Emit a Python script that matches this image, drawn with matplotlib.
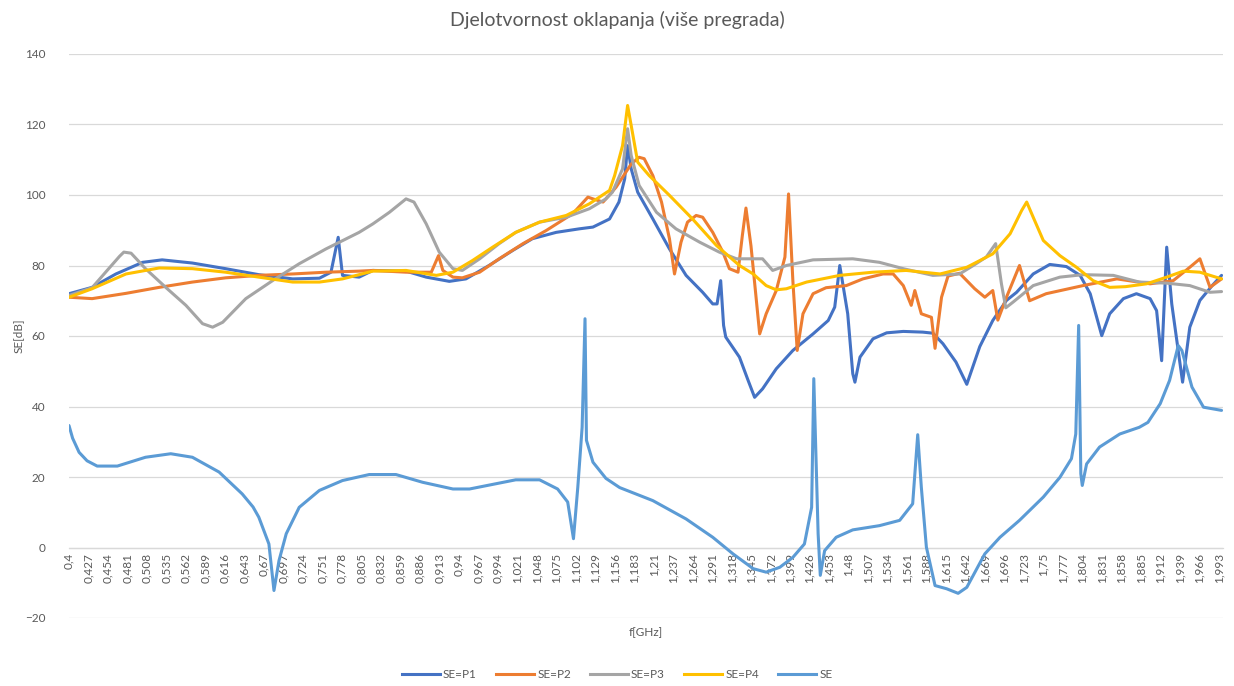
import matplotlib
matplotlib.use("Agg")
import matplotlib.pyplot as plt
from matplotlib.lines import Line2D

plt.rcParams['font.family'] = ['Lato', 'DejaVu Sans']

# ---------------- data (frequency in GHz, shielding effectiveness in dB) ----------------
p1_f = [0.400, 0.432, 0.465, 0.502, 0.529, 0.571, 0.617, 0.663, 0.710, 0.747, 0.763, 0.773,
        0.779, 0.802, 0.821, 0.867, 0.895, 0.927, 0.950, 0.982, 1.015, 1.042, 1.075, 1.107,
        1.126, 1.149, 1.162, 1.170, 1.174, 1.179, 1.188, 1.209, 1.232, 1.255, 1.278, 1.292,
        1.298, 1.303, 1.307, 1.310, 1.329, 1.341, 1.350, 1.361, 1.380, 1.403, 1.431, 1.452,
        1.461, 1.468, 1.479, 1.486, 1.489, 1.496, 1.514, 1.533, 1.556, 1.583, 1.597, 1.611,
        1.629, 1.644, 1.662, 1.680, 1.699, 1.713, 1.736, 1.759, 1.782, 1.801, 1.815, 1.831,
        1.842, 1.861, 1.879, 1.898, 1.907, 1.914, 1.921, 1.928, 1.943, 1.953, 1.967, 1.984,
        1.997]
p1_db = [72.0, 73.8, 77.6, 80.9, 81.6, 80.7, 79.1, 77.4, 76.2, 76.4, 78.1, 88.0,
         77.2, 76.7, 78.6, 78.4, 76.7, 75.5, 76.2, 80.0, 84.3, 87.6, 89.4, 90.4,
         90.9, 93.2, 98.0, 104.6, 114.0, 107.4, 100.8, 93.2, 84.7, 77.2, 72.4, 69.1,
         69.1, 75.7, 63.0, 59.7, 54.0, 47.4, 42.6, 45.0, 50.7, 55.9, 60.6, 64.4,
         68.2, 80.0, 66.3, 49.3, 46.9, 54.0, 59.2, 60.9, 61.3, 61.1, 60.8, 57.8,
         52.6, 46.3, 57.0, 64.4, 70.1, 72.4, 77.6, 80.3, 79.7, 77.2, 72.0, 60.1,
         66.3, 70.6, 72.0, 70.6, 67.2, 53.0, 85.2, 69.1, 46.9, 62.5, 70.1, 74.3,
         77.2]

p2_f = [0.400, 0.432, 0.479, 0.525, 0.571, 0.617, 0.663, 0.710, 0.756, 0.802, 0.821, 0.867,
        0.902, 0.912, 0.918, 0.932, 0.945, 0.969, 0.996, 1.029, 1.061, 1.098, 1.119, 1.126,
        1.140, 1.158, 1.179, 1.190, 1.197, 1.209, 1.221, 1.232, 1.239, 1.248, 1.257, 1.269,
        1.278, 1.292, 1.306, 1.315, 1.327, 1.333, 1.338, 1.345, 1.357, 1.366, 1.380, 1.392,
        1.397, 1.403, 1.409, 1.417, 1.431, 1.449, 1.477, 1.500, 1.528, 1.542, 1.556, 1.567,
        1.572, 1.581, 1.595, 1.600, 1.609, 1.618, 1.634, 1.655, 1.669, 1.680, 1.687, 1.699,
        1.717, 1.731, 1.754, 1.805, 1.852, 1.898, 1.930, 1.953, 1.967, 1.981, 1.997]
p2_db = [71.0, 70.6, 72.1, 73.8, 75.3, 76.5, 77.2, 77.6, 78.1, 78.4, 78.6, 78.1,
         78.1, 82.8, 78.6, 76.7, 76.5, 78.1, 81.9, 86.2, 89.9, 94.7, 99.4, 98.9,
         98.0, 102.2, 108.8, 110.7, 110.3, 105.5, 98.0, 87.6, 77.6, 86.6, 92.3, 94.2,
         93.7, 89.4, 83.8, 79.1, 78.1, 88.5, 96.3, 85.5, 60.6, 66.3, 72.9, 82.4,
         100.3, 75.7, 55.9, 66.3, 72.0, 73.7, 74.3, 76.2, 77.6, 77.6, 74.3, 68.7,
         72.9, 66.3, 65.3, 56.5, 71.0, 77.0, 77.8, 73.4, 71.0, 72.9, 64.5, 71.0,
         80.0, 70.0, 72.0, 74.3, 76.2, 74.8, 75.7, 79.5, 81.9, 73.8, 76.2]

p3_f = [0.400, 0.432, 0.455, 0.470, 0.476, 0.486, 0.506, 0.534, 0.562, 0.585, 0.599, 0.613,
        0.645, 0.682, 0.719, 0.756, 0.802, 0.821, 0.844, 0.867, 0.878, 0.895, 0.913, 0.932,
        0.945, 0.969, 0.996, 1.019, 1.052, 1.089, 1.121, 1.144, 1.153, 1.167, 1.174, 1.179,
        1.190, 1.214, 1.241, 1.274, 1.301, 1.325, 1.361, 1.375, 1.394, 1.431, 1.486, 1.523,
        1.556, 1.597, 1.634, 1.653, 1.671, 1.684, 1.692, 1.698, 1.708, 1.736, 1.773, 1.805,
        1.847, 1.883, 1.921, 1.953, 1.981, 1.997]
p3_db = [71.5, 73.7, 79.1, 82.6, 83.8, 83.5, 79.1, 73.8, 68.7, 63.5, 62.5, 63.9,
         70.6, 75.7, 80.5, 84.7, 89.4, 91.8, 95.1, 98.9, 98.0, 91.8, 83.8, 79.1,
         78.6, 81.9, 86.2, 89.4, 92.3, 93.7, 96.1, 98.9, 100.8, 107.4, 118.8, 111.2,
         102.7, 95.1, 90.4, 86.6, 83.8, 81.9, 81.9, 78.6, 80.0, 81.6, 81.9, 80.9,
         79.1, 77.2, 77.6, 80.0, 82.4, 86.2, 74.8, 68.0, 69.6, 74.3, 76.7, 77.4,
         77.2, 75.3, 75.0, 74.3, 72.4, 72.6]

p4_f = [0.400, 0.432, 0.479, 0.525, 0.571, 0.617, 0.663, 0.710, 0.747, 0.779, 0.802, 0.821,
        0.867, 0.909, 0.932, 0.959, 0.987, 1.019, 1.052, 1.089, 1.121, 1.149, 1.156, 1.167,
        1.174, 1.179, 1.188, 1.204, 1.232, 1.264, 1.297, 1.329, 1.348, 1.366, 1.380, 1.394,
        1.422, 1.468, 1.514, 1.560, 1.607, 1.644, 1.680, 1.704, 1.720, 1.727, 1.736, 1.750,
        1.773, 1.796, 1.819, 1.842, 1.864, 1.893, 1.921, 1.944, 1.967, 1.997]
p4_db = [71.0, 73.4, 77.6, 79.3, 79.1, 78.1, 76.7, 75.3, 75.3, 76.2, 77.4, 78.4,
         78.6, 77.2, 78.1, 81.4, 85.2, 89.4, 92.3, 94.2, 97.5, 101.3, 105.5, 114.0,
         125.4, 119.7, 109.3, 105.5, 99.9, 93.2, 85.7, 80.0, 77.6, 74.3, 73.1, 73.4,
         75.3, 77.2, 78.1, 78.6, 77.6, 79.5, 83.3, 89.0, 95.6, 98.0, 93.7, 87.1,
         82.8, 79.5, 75.7, 73.8, 74.0, 74.8, 76.7, 78.4, 78.1, 76.2]

se_f = [0.400, 0.405, 0.414, 0.425, 0.439, 0.467, 0.506, 0.541, 0.571, 0.608, 0.640, 0.655,
        0.663, 0.677, 0.684, 0.691, 0.701, 0.719, 0.747, 0.779, 0.816, 0.853, 0.890, 0.932,
        0.955, 0.987, 1.019, 1.052, 1.077, 1.091, 1.099, 1.105, 1.111, 1.115, 1.117, 1.126,
        1.144, 1.163, 1.209, 1.255, 1.292, 1.320, 1.348, 1.366, 1.385, 1.403, 1.419, 1.429,
        1.432, 1.438, 1.441, 1.447, 1.463, 1.486, 1.523, 1.551, 1.569, 1.576, 1.581, 1.588,
        1.600, 1.616, 1.632, 1.644, 1.669, 1.690, 1.717, 1.750, 1.773, 1.789, 1.795, 1.799,
        1.802, 1.804, 1.810, 1.828, 1.856, 1.883, 1.895, 1.912, 1.925, 1.937, 1.942, 1.956,
        1.972, 1.997]
se_db = [34.6, 31.0, 27.0, 24.6, 23.1, 23.1, 25.6, 26.6, 25.6, 21.4, 15.2, 11.5,
         8.6, 1.0, -12.2, -3.7, 3.9, 11.4, 16.2, 19.0, 20.7, 20.7, 18.5, 16.6,
         16.6, 17.9, 19.2, 19.2, 16.6, 12.9, 2.5, 17.1, 34.1, 64.9, 30.4, 24.2,
         19.6, 17.0, 13.3, 8.1, 2.9, -1.8, -6.0, -7.0, -5.6, -2.8, 1.0, 11.4,
         47.9, 3.9, -7.9, -0.9, 2.9, 5.0, 6.2, 7.7, 12.4, 32.0, 17.1, 0.1,
         -10.8, -11.7, -13.0, -11.3, -1.8, 2.9, 7.7, 14.3, 19.9, 25.2, 32.2, 63.0,
         20.9, 17.6, 23.7, 28.5, 32.2, 34.1, 35.5, 40.8, 47.4, 57.3, 55.9, 45.5,
         39.8, 38.9]

series_names = ["SE=P1", "SE=P2", "SE=P3", "SE=P4", "SE"]
series_colors = ["#4472C4", "#ED7D31", "#A5A5A5", "#FFC000", "#5B9BD5"]

tick_labels = ["0,4", "0,427", "0,454", "0,481", "0,508", "0,535", "0,562", "0,589", "0,616",
               "0,643", "0,67", "0,697", "0,724", "0,751", "0,778", "0,805", "0,832", "0,859",
               "0,886", "0,913", "0,94", "0,967", "0,994", "1,021", "1,048", "1,075", "1,102",
               "1,129", "1,156", "1,183", "1,21", "1,237", "1,264", "1,291", "1,318", "1,345",
               "1,372", "1,399", "1,426", "1,453", "1,48", "1,507", "1,534", "1,561", "1,588",
               "1,615", "1,642", "1,669", "1,696", "1,723", "1,75", "1,777", "1,804", "1,831",
               "1,858", "1,885", "1,912", "1,939", "1,966", "1,993"]
tick_values = [float(t.replace(",", ".")) for t in tick_labels]

title = "Djelotvornost oklapanja (više pregrada)"
x_label = "f[GHz]"
y_label = "SE[dB]"

# ---------------- figure ----------------
W, H = 1234, 686
fig = plt.figure(figsize=(W / 100, H / 100), dpi=100)
ax = fig.add_axes([69 / W, 1 - 618 / H, (1223 - 69) / W, (618 - 54) / H])

data = [(p1_f, p1_db), (p2_f, p2_db), (p3_f, p3_db), (p4_f, p4_db), (se_f, se_db)]
for (fx, fy), name, col in zip(data, series_names, series_colors):
    ax.plot(fx, fy, color=col, lw=2.2, label=name, solid_joinstyle="round",
            solid_capstyle="round", zorder=3)

ax.set_xlim(0.4, 1.999)
ax.set_ylim(-20, 140)
ax.set_yticks(range(-20, 141, 20))
ax.grid(axis="y", color="#D9D9D9", lw=0.9)
ax.set_axisbelow(True)
for s in ["top", "right", "left"]:
    ax.spines[s].set_visible(False)
ax.spines["bottom"].set_position(("data", 0))
ax.spines["bottom"].set_color("#D9D9D9")
ax.spines["bottom"].set_linewidth(0.9)
ax.set_xticks(tick_values)
ax.set_xticklabels(tick_labels, rotation=90)
ax.tick_params(axis="x", length=0, pad=4, labelsize=8.5, labelcolor="#595959")
ax.tick_params(axis="y", length=0, pad=17, labelsize=8.5, labelcolor="#595959")

fig.text(0.5, 1 - 20 / H, title, ha="center", va="center", fontsize=14, color="#595959")
fig.text(646 / W, 1 - 633 / H, x_label, ha="center", va="center", fontsize=8.5, color="#595959")
fig.text(18 / W, 1 - 336 / H, y_label, ha="center", va="center", rotation=90,
         fontsize=8.5, color="#595959")

handles = [Line2D([0], [0], color=c, lw=2.2) for c in series_colors]
fig.legend(handles, series_names, loc="center", bbox_to_anchor=(0.5, 1 - 675 / H), ncol=5,
           frameon=False, fontsize=8.5, handlelength=3.2, handletextpad=0.3, columnspacing=1.6,
           labelcolor="#595959")

fig.savefig("out.png", dpi=100)
